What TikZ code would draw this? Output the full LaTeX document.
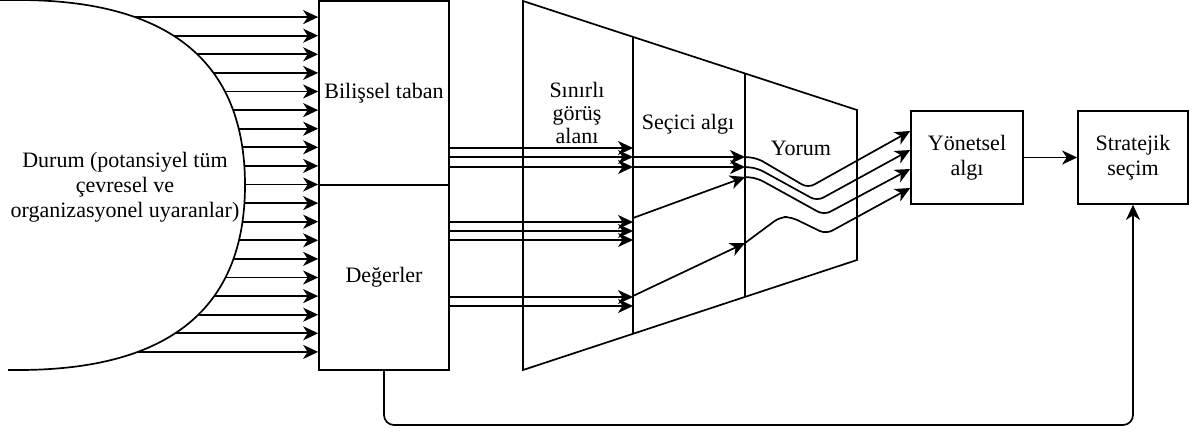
\documentclass[tikz,border=0pt]{standalone}
\usepackage{fontspec}
\setmainfont{Liberation Serif}
\usetikzlibrary{arrows.meta,calc}
\begin{document}
\begin{tikzpicture}[x=1pt,y=-1pt,line width=1.7pt,
  arr/.style={-{Stealth[length=15pt,width=14pt,inset=4.5pt]}},
  box/.style={draw,inner sep=0pt,align=center,font=\fontsize{22}{25}\selectfont},
  lbl/.style={inner sep=0pt,align=center,font=\fontsize{22}{25}\selectfont}]
\useasboundingbox (0,0) rectangle (1194,432);
% situation shape
\draw (0,0) -- (18,0) .. controls (169.3,0) and (245,61.7) .. (245,185)
      .. controls (245,308.3) and (169.3,370) .. (18,370) -- (8,370);
\node[lbl] (durum) at (125,187) {Durum (potansiyel tüm\\çevresel ve\\organizasyonel uyaranlar)};
% boxes
\node[box,minimum width=130pt,minimum height=184pt] (bil) at (384,93) {Bilişsel taban};
\node[box,minimum width=130pt,minimum height=185pt] (deg) at (384,277.5) {Değerler};
\node[box,minimum width=112pt,minimum height=93pt] (yon) at (967,157.5) {Yönetsel\\algı};
\node[box,minimum width=110pt,minimum height=93pt] (str) at (1133,157.5) {Stratejik\\seçim};
% input arrows
\foreach \k in {-9,...,9}{
  \pgfmathsetmacro\yy{184.5+18.6*\k}
  \pgfmathsetmacro\dd{abs(\yy-185)}
  \pgfmathsetmacro\tt{sqrt((185-\dd)/185)}
  \pgfmathsetmacro\xx{245-227*(1-\tt)*(1-\tt)}
  \coordinate (s) at (\xx,\yy);
  \draw[arr] (s) -- (bil.west |- s);
}
% trapezoid
\coordinate (tl) at (523,1);
\coordinate (tr) at (857,110);
\coordinate (br) at (857,260);
\coordinate (bl) at (523,370);
\draw (tl) -- (tr) -- (br) -- (bl) -- cycle;
\coordinate (d1t) at ($(tl)!0.3293!(tr)$);
\coordinate (d1b) at ($(bl)!0.3293!(br)$);
\coordinate (d2t) at ($(tl)!0.6647!(tr)$);
\coordinate (d2b) at ($(bl)!0.6647!(br)$);
\draw (d1t) -- (d1b);
\draw (d2t) -- (d2b);
\node[lbl,font=\fontsize{22}{23}\selectfont] (sin) at (577,113) {Sınırlı\\görüş\\alanı};
\node[lbl] (sec) at (688,124) {Seçici algı};
\node[lbl] (yor) at (801,148) {Yorum};
% arrows into first divider
\foreach \y in {148,157,167}{ \draw[arr] (bil.east |- 0,\y) -- (d1t |- 0,\y); }
\foreach \y in {222,231,240}{ \draw[arr] (deg.east |- 0,\y) -- (d1t |- 0,\y); }
\foreach \y in {297,306}{ \draw[arr] (deg.east |- 0,\y) -- (d1t |- 0,\y); }
% second column
\foreach \y in {157,167}{ \draw[arr] (d1t |- 0,\y) -- (d2t |- 0,\y); }
\draw[arr] (d1t |- 0,218) -- (d2t |- 0,177);
\draw[arr] (d1t |- 0,296) -- (d2t |- 0,243);
% interpretation
\draw[arr,rounded corners=7pt] (d2t |- 0,157) -- (757,158) -- (808,188) -- (yon.west |- 0,131);
\draw[arr,rounded corners=7pt] (d2t |- 0,167) -- (757,168) -- (817,201) -- (yon.west |- 0,150);
\draw[arr,rounded corners=7pt] (d2t |- 0,177) -- (757,178) -- (824,215) -- (yon.west |- 0,169);
\draw[arr,rounded corners=7pt] (d2t |- 0,243) -- (780,217) -- (791,217) -- (826,234) -- (yon.west |- 0,188);
% outputs
\draw[arr] (yon.east) -- (str.west);
\draw[arr,rounded corners=10pt] (deg.south) -- (deg.south |- 0,425) -- (str.south |- 0,425) -- (str.south);
\end{tikzpicture}
\end{document}
